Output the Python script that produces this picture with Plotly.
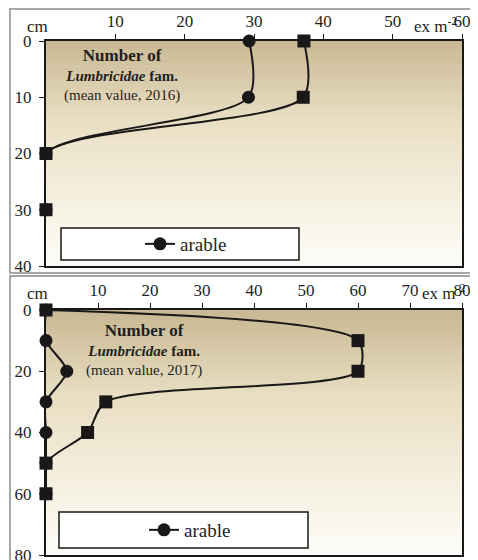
import plotly.graph_objects as go

# ---- data ----
depth_2016 = [0, 10, 20, 30]
arable_2016 = [29.3, 29.2, 0, 0]
other_2016 = [37.2, 37.1, 0, 0]

depth_2017 = [0, 10, 20, 30, 40, 50, 60]
arable_2017 = [0, 0, 4, 0, 0, 0, 0]
other_2017 = [0, 60, 60, 11.5, 8, 0, 0]

x_ticks_2016 = [10, 20, 30, 40, 50, 60]
x_ticks_2017 = [10, 20, 30, 40, 50, 60, 70, 80]

OFF = 8  # page body margin
W, H = 478 - OFF, 560 - OFF
FONT = "Liberation Serif"


def px(x):
    return (x - OFF) / W


def py(y):
    return 1 - (y - OFF) / H


fig = go.Figure()

line_style = dict(color="#1a1718", width=2, shape="spline", smoothing=0.8)

fig.add_trace(go.Scatter(x=other_2016, y=depth_2016, mode="lines+markers", name="other",
                         line=line_style, marker=dict(symbol="square", size=13, color="#1a1718"),
                         showlegend=False, cliponaxis=False, xaxis="x", yaxis="y"))
fig.add_trace(go.Scatter(x=arable_2016, y=depth_2016, mode="lines+markers", name="arable",
                         line=line_style, marker=dict(symbol="circle", size=13, color="#1a1718"),
                         showlegend=True, legend="legend", cliponaxis=False, xaxis="x", yaxis="y"))
fig.add_trace(go.Scatter(x=other_2017, y=depth_2017, mode="lines+markers", name="other",
                         line=line_style, marker=dict(symbol="square", size=13, color="#1a1718"),
                         showlegend=False, cliponaxis=False, xaxis="x2", yaxis="y2"))
fig.add_trace(go.Scatter(x=arable_2017, y=depth_2017, mode="lines+markers", name="arable",
                         line=line_style, marker=dict(symbol="circle", size=13, color="#1a1718"),
                         showlegend=True, legend="legend2", cliponaxis=False, xaxis="x2", yaxis="y2"))

# gradient backgrounds via stripes
stops = [(0.0, (200, 184, 146)), (0.35, (232, 222, 194)), (0.65, (243, 237, 219)), (1.0, (253, 252, 248))]


def col(t):
    for i in range(len(stops) - 1):
        a, ca = stops[i]
        b, cb = stops[i + 1]
        if a <= t <= b:
            f = (t - a) / (b - a)
            c = [round(ca[k] + (cb[k] - ca[k]) * f) for k in range(3)]
            return "rgb(%d,%d,%d)" % tuple(c)
    return "rgb(253,252,248)"


shapes = []
N = 70
for ax in ["", "2"]:
    for i in range(N):
        t0 = i / N
        t1 = (i + 1) / N
        shapes.append(dict(type="rect", xref="x%s domain" % ax, yref="y%s domain" % ax,
                           x0=0, x1=1, y0=1 - t1, y1=1 - t0 + 0.002, line=dict(width=0),
                           fillcolor=col((t0 + t1) / 2), layer="below"))

# outer panel frames
shapes.append(dict(type="rect", xref="paper", yref="paper", x0=px(10), x1=px(490), y0=py(273), y1=py(9),
                   line=dict(color="#8a8a8a", width=1.5), fillcolor="rgba(0,0,0,0)"))
shapes.append(dict(type="rect", xref="paper", yref="paper", x0=px(10), x1=px(490), y0=py(570), y1=py(276),
                   line=dict(color="#8a8a8a", width=1.5), fillcolor="rgba(0,0,0,0)"))
# legend boxes
shapes.append(dict(type="rect", xref="paper", yref="paper", x0=px(61), x1=px(299), y0=py(260), y1=py(228),
                   line=dict(color="#1a1718", width=1.5), fillcolor="white"))
shapes.append(dict(type="rect", xref="paper", yref="paper", x0=px(59), x1=px(308), y0=py(548), y1=py(512),
                   line=dict(color="#1a1718", width=1.5), fillcolor="white"))

fnt = dict(family=FONT, size=17, color="#231f20")
afnt = dict(family=FONT, size=15, color="#231f20")

title_txt = ("<span style='font-size:17px'><b>Number of</b></span><br>"
             "<b><i>Lumbricidae</i> fam.</b><br>(mean value, %s)")

annotations = [
    dict(xref="paper", yref="paper", x=px(37), y=py(26), text="cm", showarrow=False, font=fnt,
         xanchor="center", yanchor="middle"),
    dict(xref="paper", yref="paper", x=px(412), y=py(25), text="ex m<sup>-2</sup>", showarrow=False, font=fnt,
         xanchor="left", yanchor="middle"),
    dict(xref="paper", yref="paper", x=px(37), y=py(293), text="cm", showarrow=False, font=fnt,
         xanchor="center", yanchor="middle"),
    dict(xref="paper", yref="paper", x=px(420), y=py(292), text="ex m<sup>-2</sup>", showarrow=False, font=fnt,
         xanchor="left", yanchor="middle"),
    dict(xref="paper", yref="paper", x=px(122), y=py(75), text=title_txt % "2016",
         showarrow=False, font=afnt, align="center", xanchor="center", yanchor="middle"),
    dict(xref="paper", yref="paper", x=px(144), y=py(350), text=title_txt % "2017",
         showarrow=False, font=afnt, align="center", xanchor="center", yanchor="middle"),
]

axis_common = dict(showline=True, linecolor="#1a1718", linewidth=2, mirror=True, ticks="outside",
                   ticklen=5, tickcolor="#1a1718", tickwidth=1, showgrid=False, zeroline=False,
                   tickfont=fnt, automargin=False, ticklabeloverflow="allow")

fig.update_layout(
    width=W, height=H,
    margin=dict(l=0, r=0, t=0, b=0),
    paper_bgcolor="white",
    plot_bgcolor="rgba(0,0,0,0)",
    font=fnt,
    xaxis=dict(domain=[px(46), px(462)], range=[0, 60], side="top", anchor="y",
               tickvals=x_ticks_2016, **axis_common),
    yaxis=dict(domain=[py(266), py(41)], range=[40, 0], dtick=10, anchor="x",
               ticklabelstandoff=4, **axis_common),
    xaxis2=dict(domain=[px(46), px(462)], range=[0, 80], side="top", anchor="y2",
                tickvals=x_ticks_2017, **axis_common),
    yaxis2=dict(domain=[py(555), py(310)], range=[80, 0], dtick=20, anchor="x2",
                ticklabelstandoff=4, **axis_common),
    shapes=shapes,
    annotations=annotations,
    legend=dict(x=px(186), y=py(244), xanchor="center", yanchor="middle", bgcolor="rgba(0,0,0,0)",
                font=dict(family=FONT, size=19, color="#231f20")),
    legend2=dict(x=px(190), y=py(530), xanchor="center", yanchor="middle", bgcolor="rgba(0,0,0,0)",
                 font=dict(family=FONT, size=19, color="#231f20")),
)

fig.write_html("out.html")
